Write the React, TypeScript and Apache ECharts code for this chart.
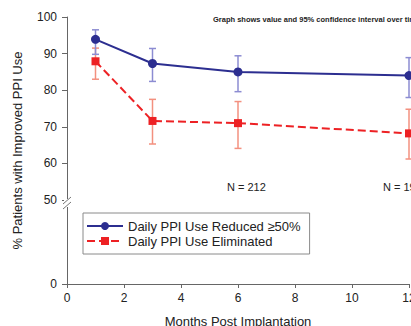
import React, { useEffect, useRef } from "react";
import * as echarts from "echarts";

const months = [1, 3, 6, 12];
const reducedValues = [93.9, 87.3, 85.0, 84.0];
const reducedLow = [89.8, 82.4, 79.6, 78.0];
const reducedHigh = [96.5, 91.4, 89.4, 88.9];
const eliminatedValues = [87.9, 71.6, 71.0, 68.2];
const eliminatedLow = [83.0, 65.3, 64.1, 61.2];
const eliminatedHigh = [91.5, 77.5, 76.9, 74.8];
const yTickLabels = [0, 50, 60, 70, 80, 90, 100];
const xTickLabels = [0, 2, 4, 6, 8, 10, 12];
const seriesNames = ["Daily PPI Use Reduced \u226550%", "Daily PPI Use Eliminated"];
const nLabels = ["N = 212", "N = 198"];

// broken axis: the 0–50 segment is drawn compressed; the value 0 is placed here
const BREAK_BOTTOM = 27.05;

const FONT = 'Arial, "Liberation Sans", sans-serif';
const BLUE = "#2c2e90";
const BLUE_ERR = "#8c8cd2";
const RED = "#ed2124";
const RED_ERR = "#f3907f";

const toAxis = (v: number) => (v < 50 ? BREAK_BOTTOM : v);

function errSeries(low: number[], high: number[], color: string) {
  return {
    type: "custom",
    silent: true,
    data: months.map((m, i) => [m, low[i], high[i]]),
    renderItem: (params: any, api: any) => {
      const x = api.value(0);
      const lo = api.coord([x, api.value(1)]);
      const hi = api.coord([x, api.value(2)]);
      const cap = 3.5;
      const style = { stroke: color, lineWidth: 1.5 };
      return {
        type: "group",
        children: [
          { type: "line", shape: { x1: lo[0], y1: lo[1], x2: hi[0], y2: hi[1] }, style },
          { type: "line", shape: { x1: lo[0] - cap, y1: lo[1], x2: lo[0] + cap, y2: lo[1] }, style },
          { type: "line", shape: { x1: hi[0] - cap, y1: hi[1], x2: hi[0] + cap, y2: hi[1] }, style },
        ],
      };
    },
  };
}

export default function App() {
  const ref = useRef<HTMLDivElement>(null);
  useEffect(() => {
    if (!ref.current) return;
    const chart = echarts.init(ref.current, null, { renderer: "svg" });
    const yVals = yTickLabels.map(toAxis);
    chart.setOption({
      animation: false,
      textStyle: { fontFamily: FONT },
      grid: { left: 67, right: 51, top: 17, bottom: 42, outerBoundsMode: "none", containLabel: false },
      xAxis: {
        type: "value",
        min: xTickLabels[0],
        max: xTickLabels[xTickLabels.length - 1],
        interval: 2,
        name: "Months Post Implantation",
        nameLocation: "middle",
        nameGap: 31,
        nameMoveOverlap: false,
        nameTextStyle: { fontSize: 13, color: "#222", fontFamily: FONT },
        axisLine: { lineStyle: { color: "#666", width: 1 } },
        axisTick: { show: true, length: 4, lineStyle: { color: "#666" } },
        axisLabel: { fontSize: 12, color: "#222", margin: 8, fontFamily: FONT },
        splitLine: { show: false },
      },
      yAxis: {
        type: "value",
        min: BREAK_BOTTOM,
        max: 100,
        name: "% Patients with Improved PPI Use",
        nameLocation: "middle",
        nameGap: 43,
        nameMoveOverlap: false,
        nameTextStyle: { fontSize: 13, color: "#222", fontFamily: FONT },
        axisLine: { show: true, lineStyle: { color: "#666", width: 1 } },
        axisTick: { show: true, length: 5, customValues: yVals, lineStyle: { color: "#666" } },
        axisLabel: {
          fontSize: 12,
          color: "#222",
          margin: 10,
          fontFamily: FONT,
          customValues: yVals,
          formatter: (v: number) => (v < 50 ? "0" : String(Math.round(v))),
        },
        splitLine: { show: false },
      },
      legend: {
        data: seriesNames,
        orient: "vertical",
        left: 83,
        top: 213,
        width: 228,
        itemWidth: 36,
        itemHeight: 10,
        itemGap: 1,
        padding: [6, 9, 6, 3],
        borderColor: "#8a8a8a",
        borderWidth: 1,
        backgroundColor: "#fff",
        textStyle: { fontSize: 13, color: "#222", lineHeight: 14, fontFamily: FONT },
      },
      series: [
        errSeries(eliminatedLow, eliminatedHigh, RED_ERR),
        {
          name: seriesNames[1],
          type: "line",
          data: months.map((m, i) => [m, eliminatedValues[i]]),
          symbol: "rect",
          symbolSize: 8,
          itemStyle: { color: RED },
          lineStyle: { color: RED, width: 2, type: [8, 4] },
        },
        errSeries(reducedLow, reducedHigh, BLUE_ERR),
        {
          name: seriesNames[0],
          type: "line",
          data: months.map((m, i) => [m, reducedValues[i]]),
          symbol: "circle",
          symbolSize: 9,
          itemStyle: { color: BLUE },
          lineStyle: { color: BLUE, width: 2 },
        },
      ],
      graphic: [
        {
          type: "text",
          left: 213,
          top: 15,
          style: {
            text: "Graph shows value and 95% confidence interval over time",
            font: `bold 7.5px ${FONT}`,
            fill: "#222",
          },
        },
        {
          type: "text",
          left: 227,
          top: 181,
          style: { text: nLabels[0], font: `11px ${FONT}`, fill: "#222" },
        },
        {
          type: "text",
          left: 383,
          top: 181,
          style: { text: nLabels[1], font: `11px ${FONT}`, fill: "#222" },
        },
        { type: "rect", shape: { x: 64, y: 199, width: 7, height: 8 }, style: { fill: "#fff" }, z: 100 },
        { type: "line", shape: { x1: 63, y1: 204, x2: 71, y2: 197 }, style: { stroke: "#777", lineWidth: 1 }, z: 101 },
        { type: "line", shape: { x1: 63, y1: 209, x2: 71, y2: 202 }, style: { stroke: "#777", lineWidth: 1 }, z: 101 },
      ],
    });
    return () => chart.dispose();
  }, []);
  return (
    <div style={{ position: "fixed", left: 0, top: 0, width: 411, height: 326, overflow: "hidden", background: "#fff" }}>
      <div ref={ref} style={{ width: 460, height: 326 }} />
    </div>
  );
}
